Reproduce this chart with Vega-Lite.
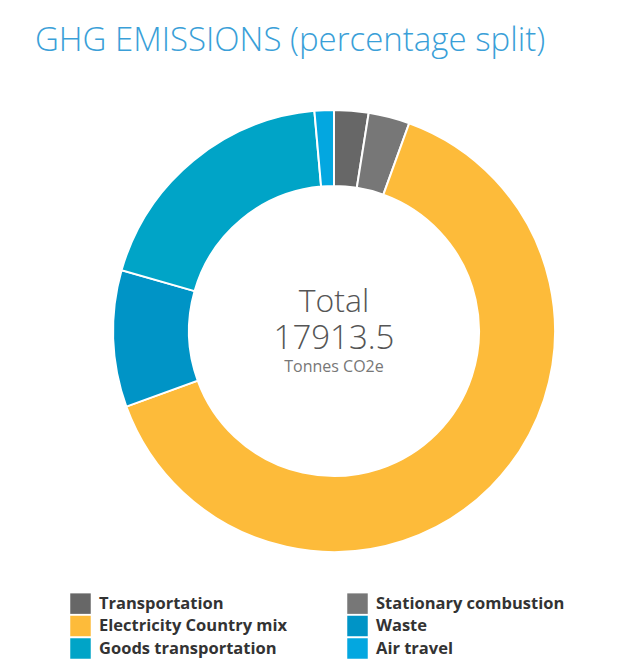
{
  "$schema": "https://vega.github.io/schema/vega-lite/v6.json",
  "width": 600,
  "height": 600,
  "autosize": {"type": "none"},
  "padding": {"left": 34, "top": 31, "right": 9, "bottom": 35},
  "background": "white",
  "config": {"view": {"stroke": null}, "font": "Open Sans"},
  "title": {
    "text": "GHG EMISSIONS (percentage split)",
    "anchor": "start",
    "font": "Open Sans",
    "fontSize": 33,
    "fontWeight": 300,
    "color": "#3a9fd8",
    "baseline": "alphabetic",
    "offset": -53,
    "dx": 1
  },
  "data": {
    "values": [
      {"idx": 1, "source": "Transportation", "tonnes": 450},
      {"idx": 2, "source": "Stationary combustion", "tonnes": 540},
      {"idx": 3, "source": "Electricity Country mix", "tonnes": 11450},
      {"idx": 4, "source": "Waste", "tonnes": 1790},
      {"idx": 5, "source": "Goods transportation", "tonnes": 3430},
      {"idx": 6, "source": "Air travel", "tonnes": 253.5}
    ]
  },
  "layer": [
    {
      "mark": {"type": "arc", "innerRadius": 145, "outerRadius": 221, "stroke": "white", "strokeWidth": 2},
      "encoding": {
        "theta": {"field": "tonnes", "type": "quantitative", "stack": true},
        "order": {"field": "idx", "type": "quantitative"},
        "color": {
          "field": "source",
          "type": "nominal",
          "scale": {
            "domain": ["Transportation", "Electricity Country mix", "Goods transportation", "Stationary combustion", "Waste", "Air travel"],
            "range": ["#676767", "#fdbb3a", "#00a4c7", "#777777", "#0094c6", "#03a7e0"]
          },
          "legend": {
            "orient": "none",
            "legendX": 36,
            "legendY": 562,
            "columns": 2,
            "title": null,
            "symbolType": "square",
            "symbolSize": 420,
            "symbolStrokeWidth": 0,
            "labelFont": "Open Sans",
            "labelFontSize": 16.5,
            "labelFontWeight": "bold",
            "labelColor": "#333333",
            "labelOffset": 8,
            "labelLimit": 400,
            "columnPadding": 59,
            "rowPadding": 1.5,
            "padding": 0
          }
        }
      }
    },
    {
      "transform": [{"aggregate": [{"op": "sum", "field": "tonnes", "as": "total"}]}],
      "layer": [
        {
          "mark": {"type": "text", "fontSize": 32, "fontWeight": 300, "font": "Open Sans", "color": "#555555", "baseline": "alphabetic", "align": "center", "dy": -19},
          "encoding": {"text": {"value": "Total"}}
        },
        {
          "mark": {"type": "text", "fontSize": 33, "fontWeight": 300, "font": "Open Sans", "color": "#555555", "baseline": "alphabetic", "align": "center", "dy": 18},
          "encoding": {"text": {"field": "total", "type": "quantitative", "format": ".1f"}}
        },
        {
          "mark": {"type": "text", "fontSize": 16, "font": "Open Sans", "color": "#777777", "baseline": "alphabetic", "align": "center", "dy": 41},
          "encoding": {"text": {"value": "Tonnes CO2e"}}
        }
      ]
    }
  ]
}
